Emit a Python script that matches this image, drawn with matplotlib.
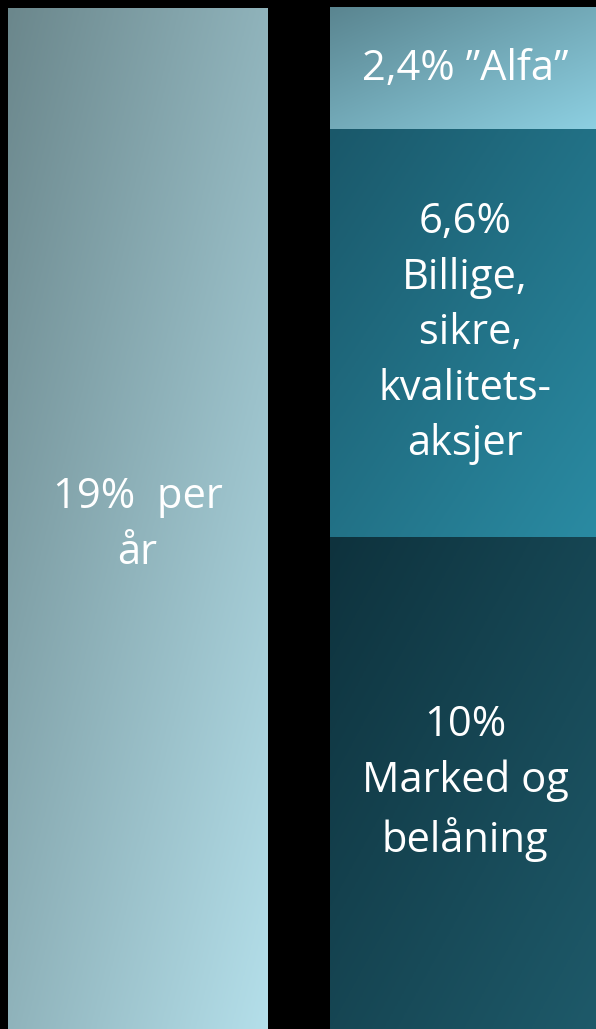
import numpy as np
import matplotlib
matplotlib.use("Agg")
import matplotlib.pyplot as plt
from matplotlib.colors import LinearSegmentedColormap

plt.rcParams['font.family'] = ['Open Sans', 'DejaVu Sans']

# venstre søyle: total avkastning
total_label = "19%  per\når"
total_height = 19.0

# høyre søyle: segmenter nedenfra og opp (høyder lest av bildet)
segment_labels = ["10%\nMarked og\nbelåning",
                  "6,6%\nBillige,\n sikre,\nkvalitets-\naksjer",
                  "2,4% \u201dAlfa\u201d"]
segment_heights = [9.16, 7.58, 2.26]

# gradientfarger (øverst til venstre -> nederst til høyre)
total_colors = ("#6b878c", "#b4dfea")
segment_colors = [("#0e323d", "#1e5a6a"),
                  ("#1a586a", "#2a8ba3"),
                  ("#5a8590", "#8dd0e2")]


def fill_gradient(ax, bar, c0, c1):
    x, y = bar.get_x(), bar.get_y()
    w, h = bar.get_width(), bar.get_height()
    u = np.linspace(0, 1, 200)
    v = np.linspace(0, 1, 400)
    U, V = np.meshgrid(u, v)
    t = (U + V) / 2  # V=0 er toppen (origin='upper')
    cmap = LinearSegmentedColormap.from_list("g", [c0, c1])
    ax.imshow(t, cmap=cmap, vmin=0, vmax=1, extent=(x, x + w, y, y + h),
              origin="upper", aspect="auto", interpolation="bilinear", zorder=2)
    bar.set_facecolor("none")


fig = plt.figure(figsize=(5.96, 10.29), dpi=100, facecolor="black")
ax = fig.add_axes([0, 0, 1, 1])
ax.set_facecolor("black")

fs = 30
ls = 1.42

left = ax.bar(0, total_height, width=0.791, color=total_colors[0], linewidth=0)
fill_gradient(ax, left[0], *total_colors)
ax.text(0, total_height / 2 - 0.12, total_label, ha="center", va="center",
        color="white", fontsize=fs, linespacing=ls, zorder=3)

bottom = 0
for lab, h, cols in zip(segment_labels, segment_heights, segment_colors):
    b = ax.bar(1, h, bottom=bottom, width=0.824, color=cols[0], linewidth=0)
    fill_gradient(ax, b[0], *cols)
    ax.text(1, bottom + h / 2, lab, ha="center", va="center",
            color="white", fontsize=fs, linespacing=ls, zorder=3)
    bottom += h

ax.set_xlim(-0.42, 1.40)
ax.set_ylim(0, 19.149)
ax.axis("off")

fig.savefig("out.png", dpi=100, facecolor="black")
